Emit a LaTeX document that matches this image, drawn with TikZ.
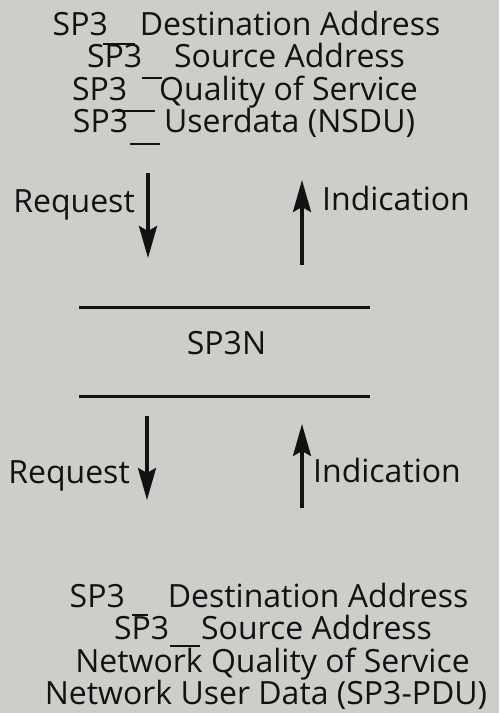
\documentclass[tikz,border=0pt]{standalone}
\usepackage{fontspec}
\setmainfont{Open Sans}
\usetikzlibrary{arrows.meta}
\definecolor{paper}{RGB}{205,205,202}
\definecolor{ink}{RGB}{18,18,18}
\begin{document}
\begin{tikzpicture}[x=1pt,y=-1pt,
  txt/.style={anchor=base,inner sep=0pt,font=\fontsize{32}{34}\selectfont,text=ink},
  flow/.style={draw=ink,line width=3.5pt,-{Stealth[length=32pt,width=18pt,inset=5pt]}},
  rule/.style={draw=ink,line width=3pt},
  tick/.style={draw=ink,line width=2pt}]
\fill[paper] (0,0) rectangle (499,713);
\useasboundingbox (0,0) rectangle (499,713);

% upper service primitives
\node[txt] (u1) at (246.5,35) {SP3\hspace*{32pt}Destination Address};
\node[txt] (u2) at (246,67) {SP3\hspace*{32pt}Source Address};
\node[txt] (u3) at (245,100) {SP3\hspace*{32pt}Quality of Service};
\node[txt] (u4) at (244,132) {SP3\hspace*{36pt}Userdata (NSDU)};
\draw[tick] (103,44) -- (135,44);
\draw[tick] (142,78) -- (162,78);
\draw[tick] (117,111) -- (155,111);
\draw[tick] (130,144) -- (160,144);

% upper request / indication
\node[txt,anchor=base east] (rq1) at (135,212) {Request};
\node[txt,anchor=base west] (in1) at (322,210) {Indication};
\coordinate (rq1s) at (148,173);
\coordinate (rq1e) at (148,258);
\coordinate (in1s) at (302,265);
\coordinate (in1e) at (302,180);
\draw[flow] (rq1s) -- (rq1e);
\draw[flow] (in1s) -- (in1e);

% network layer entity
\coordinate (t1) at (79,307);
\coordinate (t2) at (370,307);
\coordinate (b1) at (79,396);
\coordinate (b2) at (370,396);
\draw[rule] (t1) -- (t2);
\draw[rule] (b1) -- (b2);
\node[txt] (ent) at (226.5,354) {SP3N};

% lower request / indication
\node[txt,anchor=base east] (rq2) at (130,483) {Request};
\node[txt,anchor=base west] (in2) at (313,482) {Indication};
\coordinate (rq2s) at (147,416);
\coordinate (rq2e) at (147,500);
\coordinate (in2s) at (302,508);
\coordinate (in2e) at (302,424);
\draw[flow] (rq2s) -- (rq2e);
\draw[flow] (in2s) -- (in2e);

% lower service primitives
\node[txt] (l1) at (269,607) {SP3\hspace*{43pt}Destination Address};
\node[txt] (l2) at (273,639) {SP3\hspace*{32pt}Source Address};
\node[txt] (l3) at (272.5,672) {Network Quality of Service};
\node[txt] (l4) at (266,704) {Network User Data (SP3-PDU)};
\draw[tick] (132,615) -- (148,615);
\draw[tick] (170,646) -- (200,646);
\end{tikzpicture}
\end{document}
